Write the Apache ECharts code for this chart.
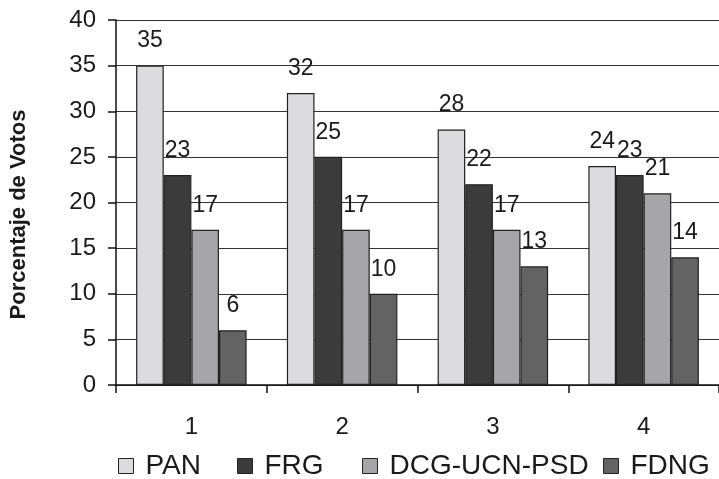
<!DOCTYPE html>
<html>
<head>
<meta charset="utf-8">
<script src="https://cdn.jsdelivr.net/npm/echarts@6/dist/echarts.min.js"></script>
<style>html,body{margin:0;padding:0;background:#fff}#c{width:719px;height:479px}</style>
</head>
<body>
<div id="c"></div>
<script>
const categories = ['1', '2', '3', '4'];
const seriesNames = ['PAN', 'FRG', 'DCG-UCN-PSD', 'FDNG'];
const PAN = [35, 32, 28, 24];
const FRG = [23, 25, 22, 23];
const DCG = [17, 17, 17, 21];
const FDNG = [6, 10, 13, 14];
const yTicks = { min: 0, max: 40, interval: 5 };
const yTitle = 'Porcentaje de Votos';

const colors = ['#dcdcde', '#3b3b3b', '#a6a6a9', '#636363'];
const values = [PAN, FRG, DCG, FDNG];
const legendLeft = [118, 237, 362, 603];
const sans = '"Liberation Sans", Arial, Helvetica, sans-serif';

const chart = echarts.init(document.getElementById('c'));
chart.setOption({
  animation: false,
  backgroundColor: '#fff',
  grid: { left: 115, right: -7, top: 20, bottom: 94, containLabel: false },
  legend: seriesNames.map((n, i) => ({
    data: [n],
    left: legendLeft[i],
    top: 452,
    padding: 0,
    icon: 'rect',
    itemWidth: 15,
    itemHeight: 15,
    itemStyle: { borderColor: '#222', borderWidth: 1 },
    textStyle: { fontFamily: sans, fontSize: 28, color: '#1a1a1a', padding: [0, 0, 0, 7] }
  })),
  xAxis: {
    type: 'category',
    data: categories,
    axisLine: { show: true, lineStyle: { color: '#111', width: 1.5 } },
    axisTick: { show: true, length: 8, lineStyle: { color: '#111', width: 1.5 } },
    axisLabel: { fontFamily: sans, fontSize: 24, color: '#1a1a1a', margin: 30 },
    splitLine: { show: false }
  },
  yAxis: {
    type: 'value',
    min: yTicks.min, max: yTicks.max, interval: yTicks.interval,
    name: yTitle,
    nameLocation: 'middle',
    nameGap: 86,
    nameTextStyle: { fontFamily: sans, fontWeight: 'bold', fontSize: 22, color: '#1a1a1a', padding: [0, 24, 0, 0] },
    axisLine: { show: true, lineStyle: { color: '#111', width: 1.5 } },
    axisTick: { show: true, length: 8, lineStyle: { color: '#111', width: 1.5 } },
    axisLabel: { fontFamily: sans, fontSize: 24, color: '#1a1a1a', margin: 20 },
    splitLine: { show: true, lineStyle: { color: '#333', width: 1.2 } }
  },
  series: seriesNames.map((n, i) => ({
    name: n,
    type: 'bar',
    data: values[i],
    barGap: '0%',
    barCategoryGap: '26.7%',
    itemStyle: { color: colors[i], borderColor: '#222', borderWidth: 1.2 },
    label: { show: true, position: 'top', distance: 13, fontFamily: sans, fontSize: 23, color: '#1a1a1a' }
  }))
});
</script>
</body>
</html>
